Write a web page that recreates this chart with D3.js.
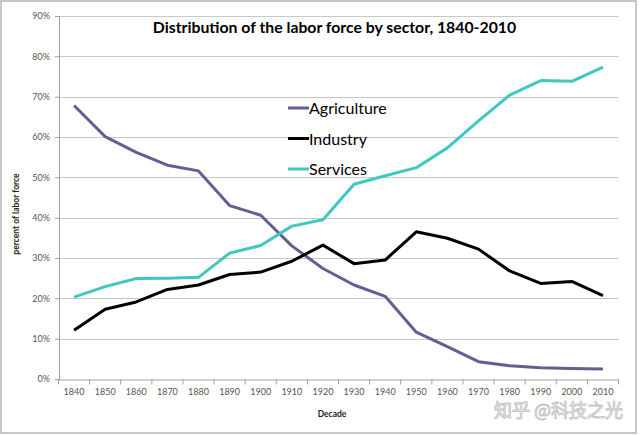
<!DOCTYPE html>
<html><head><meta charset="utf-8">
<script src="https://cdn.jsdelivr.net/npm/d3@7"></script>
<style>body{margin:0;background:#fff}svg{display:block}</style>
</head><body>
<svg id="c" width="640" height="435"></svg>
<script>
const decades = [1840,1850,1860,1870,1880,1890,1900,1910,1920,1930,1940,1950,1960,1970,1980,1990,2000,2010];
const agriculture = [67.8,60.1,56.2,53.0,51.6,43.0,40.6,33.0,27.4,23.3,20.5,11.6,8.0,4.3,3.3,2.8,2.6,2.5];
const industry = [12.1,17.3,19.1,22.2,23.3,25.9,26.5,29.2,33.2,28.6,29.5,36.5,34.9,32.2,26.8,23.7,24.2,20.7];
const services = [20.3,22.9,24.9,25.0,25.2,31.2,33.1,37.9,39.5,48.3,50.4,52.4,57.3,64.0,70.4,74.0,73.8,77.3];
const yTicks = [0,10,20,30,40,50,60,70,80,90];
const seriesNames = ["Agriculture","Industry","Services"];
const seriesColors = ["#645f93","#000000","#3fc7c0"];
const title = "Distribution of the labor force by sector, 1840-2010";

const svg = d3.select("#c");
const L = 58.5, R = 618.5, T = 16, B = 379;
const x = d3.scaleBand().domain(decades).range([L, R]);
const y = d3.scaleLinear().domain([0, 90]).range([B, T]);

svg.append("rect").attr("x",1).attr("y",1).attr("width",635).attr("height",432)
  .attr("fill","#fff").attr("stroke","#b4b4b4").attr("stroke-width",1.5);

// gridlines
svg.append("g").selectAll("line").data(yTicks.filter(d=>d>0)).join("line")
  .attr("x1",L).attr("x2",R).attr("y1",d=>Math.round(y(d))+0.5).attr("y2",d=>Math.round(y(d))+0.5)
  .attr("stroke","#c8c8c8").attr("stroke-width",1.2);

// y axis
const ya = svg.append("g").attr("transform",`translate(${L+0.5},0)`)
  .call(d3.axisLeft(y).tickValues(yTicks).tickFormat(d=>d+"%").tickSize(4).tickPadding(5));
ya.select(".domain").attr("stroke","#a0a0a0");
ya.selectAll(".tick line").attr("stroke","#a0a0a0");
ya.selectAll("text").attr("font-family","Lato, 'Open Sans', sans-serif").attr("font-size",9).attr("fill","#555");

// x axis
const xa = svg.append("g").attr("transform",`translate(0,${B+0.5})`)
  .call(d3.axisBottom(x).tickSize(0).tickPadding(9));
xa.select(".domain").attr("stroke","#a0a0a0");
xa.selectAll("text").attr("font-family","Lato, 'Open Sans', sans-serif").attr("font-size",9).attr("fill","#555");
// category boundary ticks
xa.append("g").selectAll("line").data(decades.map((d,i)=>i).concat([decades.length])).join("line")
  .attr("x1",i=>L+i*x.step()).attr("x2",i=>L+i*x.step()).attr("y1",0).attr("y2",5)
  .attr("stroke","#a0a0a0");

// lines
const data = [agriculture, industry, services];
const line = d3.line().x((d,i)=>x(decades[i])+x.bandwidth()/2).y(d=>y(d));
svg.append("g").selectAll("path").data(data).join("path")
  .attr("d",line).attr("fill","none").attr("stroke",(d,i)=>seriesColors[i])
  .attr("stroke-width",3).attr("stroke-linejoin","round");

// title
svg.append("text").attr("x",334.5).attr("y",33).attr("text-anchor","middle")
  .attr("font-family","Lato, 'Open Sans', sans-serif").attr("font-weight","bold").attr("font-size",15.8)
  .attr("fill","#000").text(title);

// legend
const lg = svg.append("g").selectAll("g").data(seriesNames).join("g")
  .attr("transform",(d,i)=>`translate(288,${108+i*30.5})`);
lg.append("line").attr("x1",0).attr("x2",21).attr("y1",0).attr("y2",0)
  .attr("stroke",(d,i)=>seriesColors[i]).attr("stroke-width",3);
lg.append("text").attr("x",21).attr("y",6).attr("font-family","Lato, 'Open Sans', sans-serif")
  .attr("font-size",16).attr("fill","#000").text(d=>d);

// axis titles
svg.append("text").attr("x",332).attr("y",417).attr("text-anchor","middle")
  .attr("font-family","Lato, 'Open Sans', sans-serif").attr("font-weight","bold").attr("font-size",8.5)
  .attr("fill","#222").text("Decade");
svg.append("text").attr("transform","translate(19,214) rotate(-90)").attr("text-anchor","middle")
  .attr("font-family","Lato, 'Open Sans', sans-serif").attr("font-weight","bold").attr("font-size",8.5)
  .attr("fill","#222").text("percent of labor force");

// watermark
svg.append("text").attr("x",623).attr("y",417).attr("text-anchor","end")
  .attr("font-family","'Noto Sans CJK SC', sans-serif").attr("font-size",18)
  .attr("fill","#fff").attr("stroke","#c8c8c8").attr("stroke-width",1).attr("paint-order","fill")
  .text("知乎 @科技之光");
</script>
</body></html>
